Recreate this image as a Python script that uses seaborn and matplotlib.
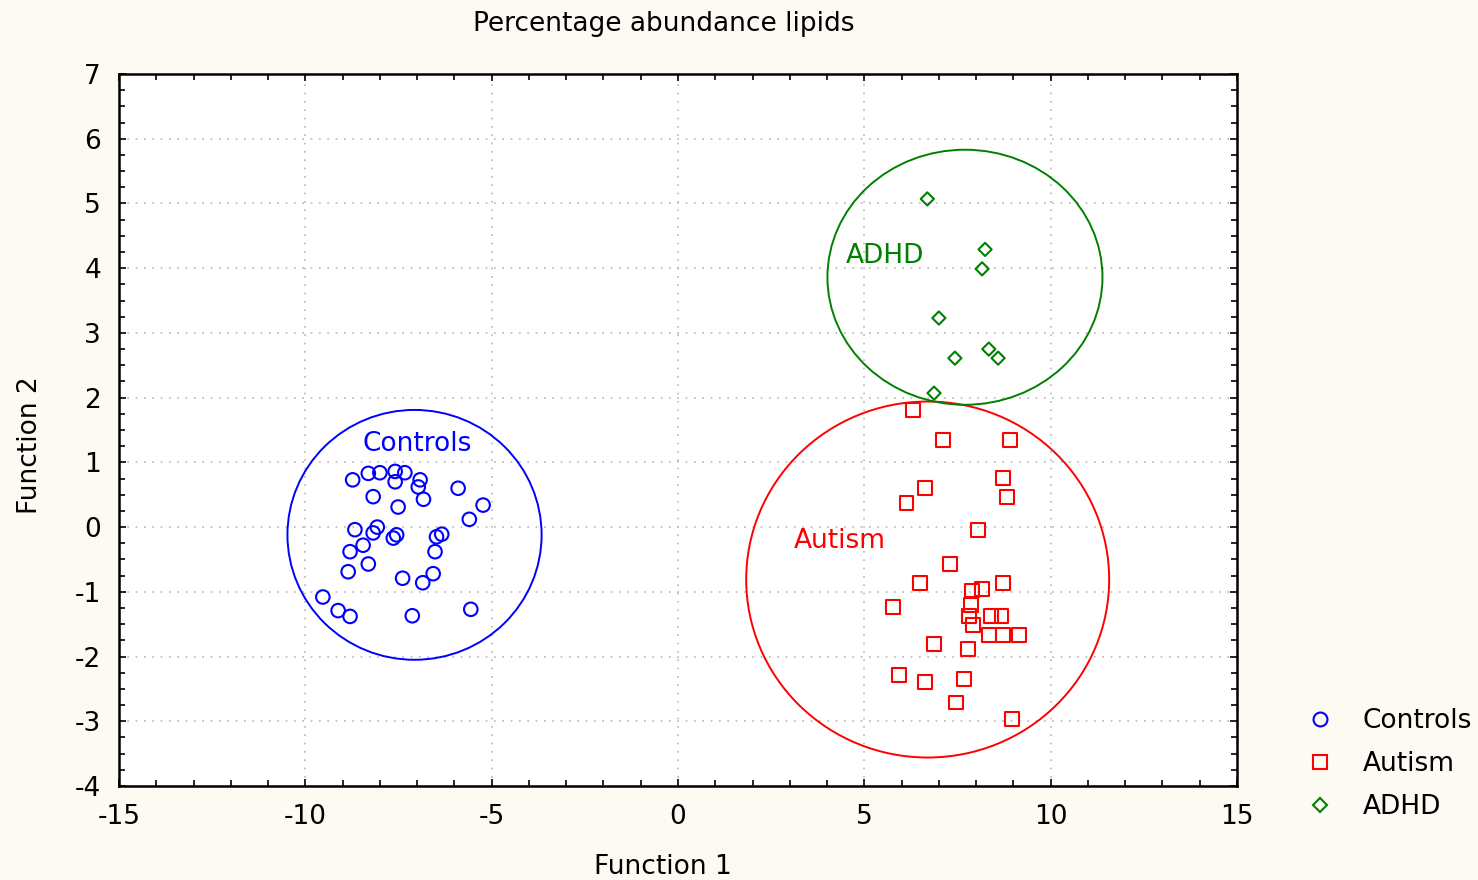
import numpy as np
import pandas as pd
import matplotlib
matplotlib.use("Agg")
import matplotlib.pyplot as plt
from matplotlib.patches import Ellipse
from matplotlib.lines import Line2D
from matplotlib.ticker import MultipleLocator
import seaborn as sns

# ---------------- data ----------------
controls_x = [-8.73, -8.31, -8.00, -7.59, -7.33, -7.59, -6.92, -6.97, -6.83, -8.18,
              -7.51, -5.90, -5.23, -5.60, -8.67, -8.07, -8.18, -7.64, -7.55, -6.34,
              -6.48, -8.45, -8.80, -6.52, -8.31, -8.85, -6.57, -6.85, -7.39, -9.53,
              -9.12, -8.80, -7.13, -5.56]
controls_y = [0.73, 0.83, 0.84, 0.86, 0.84, 0.70, 0.73, 0.62, 0.43, 0.47,
              0.31, 0.60, 0.34, 0.12, -0.04, 0.00, -0.09, -0.17, -0.12, -0.11,
              -0.15, -0.28, -0.38, -0.38, -0.57, -0.69, -0.72, -0.86, -0.79, -1.08,
              -1.29, -1.38, -1.37, -1.27]

autism_x = [6.31, 7.12, 8.91, 8.71, 8.84, 6.63, 6.13, 8.04, 7.30, 6.49,
            8.71, 7.90, 8.16, 7.86, 5.76, 7.81, 8.41, 8.68, 7.92, 8.35,
            8.73, 9.16, 6.88, 7.79, 5.94, 6.63, 7.67, 7.47, 8.97]
autism_y = [1.81, 1.35, 1.35, 0.76, 0.47, 0.60, 0.37, -0.04, -0.57, -0.86,
            -0.86, -0.98, -0.96, -1.20, -1.24, -1.37, -1.37, -1.37, -1.51, -1.67,
            -1.67, -1.67, -1.80, -1.89, -2.28, -2.39, -2.35, -2.71, -2.96]

adhd_x = [6.69, 8.24, 8.16, 7.00, 7.43, 8.34, 8.59, 6.87]
adhd_y = [5.07, 4.29, 3.99, 3.23, 2.61, 2.75, 2.61, 2.07]

groups = ["Controls", "Autism", "ADHD"]
group_colors = ["#0000ff", "#ff0000", "#008000"]
group_markers = ["o", "s", "D"]

# confidence ellipses (centre and radii in data units)
ellipse_cx = [-7.07, 6.70, 7.70]
ellipse_cy = [-0.12, -0.81, 3.86]
ellipse_rx = [3.41, 4.87, 3.69]
ellipse_ry = [1.93, 2.75, 1.97]

# in-plot group labels
label_x = [-7.0, 4.35, 5.55]
label_y = [1.28, -0.21, 4.19]

x_ticks = [-15, -10, -5, 0, 5, 10, 15]
y_ticks = [-4, -3, -2, -1, 0, 1, 2, 3, 4, 5, 6, 7]

df = pd.DataFrame({
    "Function 1": controls_x + autism_x + adhd_x,
    "Function 2": controls_y + autism_y + adhd_y,
    "Group": ["Controls"] * len(controls_x) + ["Autism"] * len(autism_x) + ["ADHD"] * len(adhd_x),
})

# ---------------- figure ----------------
sns.set_style("white")
plt.rcParams["font.family"] = ["DejaVu Sans"]
plt.rcParams["text.color"] = "black"
plt.rcParams["axes.labelcolor"] = "black"
plt.rcParams["xtick.color"] = "black"
plt.rcParams["ytick.color"] = "black"
FS = 19

bg = "#fdfaf4"
fig = plt.figure(figsize=(14.78, 8.80), dpi=100, facecolor=bg)
ax = fig.add_axes([119 / 1478, 1 - 786 / 880, (1237 - 119) / 1478, (786 - 74) / 880])
ax.set_facecolor("white")

palette = dict(zip(groups, group_colors))
markers = dict(zip(groups, group_markers))
sizes = {"Controls": 95, "Autism": 100, "ADHD": 45}

for g in groups:
    sub = df[df["Group"] == g]
    sns.scatterplot(data=sub, x="Function 1", y="Function 2", hue="Group",
                    palette={g: palette[g]}, marker=markers[g], s=sizes[g],
                    linewidth=1.5, legend=False, ax=ax, zorder=3)

# make markers hollow
for coll in ax.collections:
    fc = coll.get_facecolors()
    coll.set_edgecolors(fc)
    coll.set_facecolors("none")

for g, cx, cy, rx, ry, c in zip(groups, ellipse_cx, ellipse_cy, ellipse_rx, ellipse_ry, group_colors):
    ax.add_patch(Ellipse((cx, cy), 2 * rx, 2 * ry, fill=False, edgecolor=c, linewidth=1.4, zorder=2))

for g, lx, ly, c in zip(groups, label_x, label_y, group_colors):
    ax.text(lx, ly, g, color=c, fontsize=FS, ha="center", va="center", zorder=4)

ax.set_xlim(-15, 15)
ax.set_ylim(-4, 7)
ax.set_xticks(x_ticks)
ax.set_yticks(y_ticks)
ax.set_xticklabels([str(t) for t in x_ticks])
ax.set_yticklabels([str(t) for t in y_ticks])
ax.xaxis.set_minor_locator(MultipleLocator(1))
ax.yaxis.set_minor_locator(MultipleLocator(0.25))
ax.tick_params(which="both", direction="in", top=True, right=True, bottom=True, left=True,
               color="black", width=1.2)
ax.tick_params(which="major", length=5, labelsize=FS, pad=13)
ax.tick_params(which="minor", length=4)
ax.grid(True, which="major", linestyle=(0, (1, 4)), color="#b8b8b8", linewidth=1.2)
for s in ax.spines.values():
    s.set_color("black")
    s.set_linewidth(1.8)
ax.set_xlabel("")
ax.set_ylabel("")

fig.text(664 / 1478, 1 - 24 / 880, "Percentage abundance lipids", fontsize=FS,
         ha="center", va="center")
fig.text(663 / 1478, 1 - 867 / 880, "Function 1", fontsize=FS, ha="center", va="center")
fig.text(30 / 1478, 1 - 445 / 880, "Function 2", fontsize=FS, ha="center", va="center",
         rotation=90)

handles = [Line2D([], [], linestyle="none", marker=m, markersize=ms, markerfacecolor="none",
                  markeredgecolor=c, markeredgewidth=1.5)
           for m, c, ms in zip(group_markers, group_colors, [10, 10, 7])]
fig.legend(handles, groups, loc="center left", bbox_to_anchor=(1307 / 1478, 1 - 764 / 880),
           frameon=False, fontsize=FS, handletextpad=1.1, labelspacing=0.64,
           handlelength=1.0, borderaxespad=0, borderpad=0)

fig.savefig("out.png", dpi=100, facecolor=bg)
